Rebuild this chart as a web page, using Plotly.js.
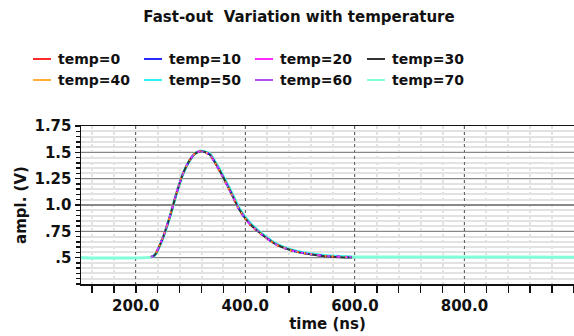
<!DOCTYPE html>
<html>
<head>
<meta charset="utf-8">
<script src="https://cdn.plot.ly/plotly-3.0.1.min.js"></script>
<style>html,body{margin:0;padding:0;background:#fff;}#chart{width:574px;height:336px;}</style>
</head>
<body>
<div id="chart"></div>
<script>
// ---- data ----
const names = ["temp=0","temp=10","temp=20","temp=30","temp=40","temp=50","temp=60","temp=70"];
const colors = ["#ff2a2a","#2a2aff","#ff2aff","#333333","#ffb030","#30f0f0","#b050f0","#80ffd8"];

const timeNs = [228,235,250,262,274,286,298,308,317,326,335,353,372,390,408,432,457,481,500,524,548,572,595];

const temp0  = [0.505,0.530,0.700,0.890,1.110,1.300,1.425,1.490,1.510,1.500,1.475,1.320,1.130,0.940,0.815,0.708,0.620,0.572,0.548,0.529,0.515,0.509,0.506];
const temp10 = [0.505,0.528,0.698,0.887,1.106,1.297,1.422,1.489,1.510,1.502,1.478,1.325,1.135,0.945,0.820,0.712,0.623,0.574,0.550,0.530,0.516,0.510,0.506];
const temp20 = [0.505,0.532,0.703,0.893,1.112,1.302,1.426,1.491,1.510,1.501,1.476,1.322,1.132,0.942,0.818,0.710,0.621,0.573,0.549,0.530,0.515,0.509,0.506];
const temp30 = [0.503,0.527,0.696,0.886,1.105,1.296,1.421,1.488,1.509,1.503,1.479,1.327,1.137,0.947,0.822,0.713,0.624,0.575,0.548,0.527,0.512,0.505,0.502];
const temp40 = [0.505,0.531,0.701,0.891,1.109,1.299,1.424,1.490,1.510,1.502,1.478,1.326,1.136,0.946,0.821,0.713,0.624,0.575,0.551,0.531,0.517,0.510,0.507];
const temp50 = [0.505,0.526,0.694,0.884,1.104,1.295,1.420,1.488,1.511,1.506,1.484,1.335,1.146,0.956,0.830,0.719,0.628,0.578,0.553,0.533,0.518,0.511,0.507];
const temp60 = [0.505,0.529,0.699,0.889,1.108,1.298,1.423,1.489,1.510,1.503,1.480,1.328,1.139,0.949,0.824,0.715,0.625,0.576,0.551,0.531,0.517,0.510,0.507];
// temp=70 trace also carries the flat baseline across the whole window
const time70 = [100,228,235,250,262,274,286,298,308,317,326,335,353,372,390,408,432,457,481,500,524,548,572,595,1000];
const temp70 = [0.500,0.505,0.525,0.692,0.882,1.102,1.293,1.419,1.487,1.511,1.507,1.486,1.338,1.150,0.960,0.833,0.721,0.630,0.580,0.554,0.534,0.519,0.512,0.507,0.505];

const yTickVals = [0.5,0.75,1.0,1.25,1.5,1.75];
const yTickText = [".5",".75","1.0","1.25","1.5","1.75"];
const xTickVals = [200,400,600,800];
const xTickText = ["200.0","400.0","600.0","800.0"];

const seriesY = [temp0,temp10,temp20,temp30,temp40,temp50,temp60,temp70];
const seriesX = [timeNs,timeNs,timeNs,timeNs,timeNs,timeNs,timeNs,time70];

// ---- styling: overlapping curves drawn so the colours mix like the reference ----
const order = [7,5,3,0,1,2,4,6];
const widths = {7:3, 5:2.5, 3:2, 0:2, 1:2, 2:2, 4:2, 6:2};
const dashes = {7:"solid", 5:"solid", 3:"solid", 0:"2px,5px", 1:"3px,6px", 2:"2px,7px", 4:"1px,6px", 6:"2px,9px"};
const traces = order.map(i => ({
  type: "scatter", mode: "lines",
  x: seriesX[i], y: seriesY[i], name: names[i],
  line: {color: colors[i], width: widths[i], dash: dashes[i], shape: "spline", smoothing: 0.6},
  showlegend: false, hoverinfo: "skip"
}));

const FONT = "DejaVu Sans, Verdana, sans-serif";

// custom legend (two rows of four, short line samples)
const shapes = [];
const annotations = [];
const colX = [33,144,255,367];
const rowY = [59,80];
names.forEach((n,i) => {
  const c = i % 4, r = Math.floor(i / 4);
  shapes.push({type:"line", xref:"paper", yref:"paper",
    x0:(colX[c]-81)/493, x1:(colX[c]+18-81)/493,
    y0:(284-rowY[r])/158, y1:(284-rowY[r])/158,
    line:{color:colors[i], width:2}});
  annotations.push({xref:"paper", yref:"paper", x:(colX[c]+23-81)/493, y:(284-rowY[r])/158,
    xanchor:"left", yanchor:"middle", showarrow:false, text:"<b>"+n+"</b>",
    font:{family:FONT, size:14, color:"#111"}});
});

const layout = {
  width: 574, height: 336,
  margin: {l:81, r:0, t:126, b:52},
  paper_bgcolor: "#fff", plot_bgcolor: "#fff",
  showlegend: false,
  font: {family: FONT, color: "#111"},
  title: {text: "<b>Fast-out  Variation with temperature</b>", x: 299/574, xanchor: "center", y: 1 - 17/336, yanchor: "middle",
          xref: "container", yref: "container", font: {family: FONT, size: 15, color: "#111"}},
  xaxis: {
    range: [100, 1000], tickmode: "array", tickvals: xTickVals, ticktext: xTickText,
    ticks: "outside", ticklen: 7, tickcolor: "#111", tickwidth: 1.5,
    showline: true, mirror: true, linecolor: "#111", linewidth: 1.5,
    showgrid: true, gridcolor: "#666", griddash: "3px,3px", gridwidth: 1,
    zeroline: false,
    minor: {tick0: 0, dtick: 40, ticks: "outside", ticklen: 7, tickcolor: "#111", tickwidth: 1.5,
            showgrid: true, gridcolor: "#e2e2e2", gridwidth: 2},
    tickfont: {family: FONT, size: 15, color: "#111", weight: "bold"},
    title: {text: "<b>time (ns)</b>", font: {family: FONT, size: 15, color: "#111"}, standoff: 4},
    fixedrange: true
  },
  yaxis: {
    range: [0.25, 1.75], tickmode: "array", tickvals: yTickVals, ticktext: yTickText,
    ticks: "outside", ticklen: 5, tickcolor: "#111", tickwidth: 1.5,
    showline: true, mirror: false, linecolor: "#111", linewidth: 1.5,
    showgrid: true, gridcolor: "#888", gridwidth: 1.5,
    zeroline: false,
    minor: {tick0: 0, dtick: 0.05, ticks: "outside", ticklen: 4, tickcolor: "#111", tickwidth: 1.5,
            showgrid: true, gridcolor: "#e2e2e2", gridwidth: 2},
    tickfont: {family: FONT, size: 15, color: "#111", weight: "bold"},
    title: {text: "<b>ampl. (V)</b>", font: {family: FONT, size: 15, color: "#111"}, standoff: 4},
    fixedrange: true
  },
  shapes: shapes,
  annotations: annotations
};

Plotly.newPlot("chart", traces, layout, {displayModeBar: false, staticPlot: true});
</script>
</body>
</html>
